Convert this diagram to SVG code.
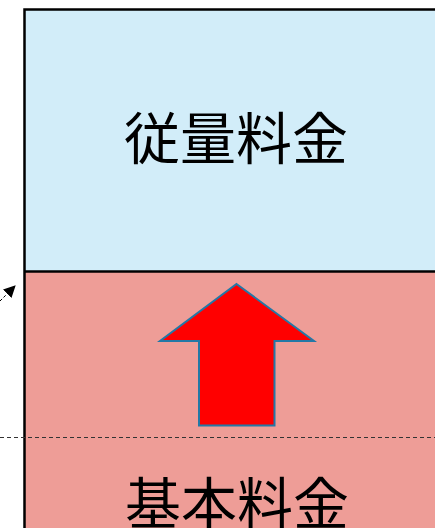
<svg xmlns="http://www.w3.org/2000/svg" width="435" height="528" viewBox="0 0 435 528">
<style>
.lbl{font-family:"Noto Sans CJK JP","Noto Sans CJK SC",sans-serif;font-size:56px;fill:#000;text-anchor:middle}
.edge{stroke:#000;stroke-width:2.5;fill:none}
</style>
<defs>
<marker id="ah" markerWidth="12" markerHeight="12" refX="11" refY="6" orient="auto" markerUnits="userSpaceOnUse">
<path d="M0,0 L12,6 L0,12 z" fill="#000"/>
</marker>
</defs>
<rect width="435" height="528" fill="#fff"/>
<g id="usage">
<rect x="24" y="10" width="420" height="262" fill="#D2EDF9"/>
<text class="lbl" x="236" y="159">従量料金</text>
</g>
<g id="base">
<rect x="24" y="272" width="420" height="270" fill="#EE9D97"/>
<text class="lbl" x="237" y="524">基本料金</text>
</g>
<g id="frame">
<path class="edge" d="M24.5,540 V9.5 H440"/>
<path class="edge" d="M24,271.5 H440"/>
</g>
<g id="up-arrow">
<polygon points="236.5,284 314,341 274.5,341 274.5,425.5 199,425.5 199,341 160,341" fill="#FF0000" stroke="#2378A6" stroke-width="2"/>
</g>
<g id="connectors">
<path d="M0,301 L15,286" stroke="#000" stroke-width="1" stroke-dasharray="3,2" fill="none" marker-end="url(#ah)"/>
<path d="M0,437.5 H435" stroke="#333" stroke-width="1" stroke-dasharray="4,3" fill="none"/>
</g>
</svg>
